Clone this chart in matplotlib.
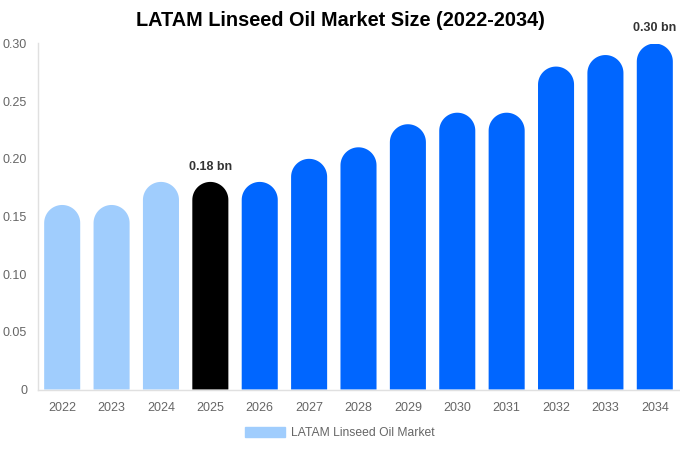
import matplotlib
matplotlib.use("Agg")
import numpy as np
import matplotlib.pyplot as plt
from matplotlib.patches import Polygon, Patch

years = ["2022", "2023", "2024", "2025", "2026", "2027", "2028", "2029", "2030", "2031", "2032", "2033", "2034"]
values = [0.16, 0.16, 0.18, 0.18, 0.18, 0.20, 0.21, 0.23, 0.24, 0.24, 0.28, 0.29, 0.30]
colors = ["#a0cdfd"] * 3 + ["#000000"] + ["#0066ff"] * 9
yticks = [0, 0.05, 0.10, 0.15, 0.20, 0.25, 0.30]
ytick_labels = ["0", "0.05", "0.10", "0.15", "0.20", "0.25", "0.30"]
annotations = {3: "0.18 bn", 12: "0.30 bn"}
title = "LATAM Linseed Oil Market Size (2022-2034)"
legend_label = "LATAM Linseed Oil Market"

plt.rcParams['font.family'] = ['Liberation Sans', 'DejaVu Sans']

W, H = 680, 450
fig = plt.figure(figsize=(W / 100, H / 100), dpi=100)
left_px, right_px, top_px, bottom_px = 37.5, 679.5, 43.5, 389.5
ax = fig.add_axes([left_px / W, 1 - bottom_px / H, (right_px - left_px) / W, (bottom_px - top_px) / H])

n = len(years)
ax.set_xlim(-0.5, n - 0.5)
ax.set_ylim(0, 0.30)
bw = 0.73
ax_w_px = right_px - left_px
ax_h_px = bottom_px - top_px
r_px = bw * ax_w_px / n / 2
r_data = r_px * 0.30 / ax_h_px

theta = np.linspace(0, np.pi, 40)
xs = list(range(n))
for x, v, c in zip(xs, values, colors):
    arc_x = x + (bw / 2) * np.cos(theta)
    arc_y = (v - r_data) + r_data * np.sin(theta)
    pts = [(x - bw / 2, 0), (x + bw / 2, 0)] + list(zip(arc_x, arc_y)) + [(x - bw / 2, 0)]
    ax.add_patch(Polygon(pts, closed=True, facecolor=c, edgecolor="none", linewidth=0))

for i, txt in annotations.items():
    ax.text(xs[i], values[i] + 0.008, txt, ha="center", va="bottom", fontsize=9, fontweight="bold", color="#333333")

ax.set_xticks(xs)
ax.set_xticklabels(years, fontsize=9, color="#666666")
ax.set_yticks(yticks)
ax.set_yticklabels(ytick_labels, fontsize=9, color="#666666")
ax.tick_params(axis="both", length=0)
ax.tick_params(axis="x", pad=9)
ax.tick_params(axis="y", pad=7.5)
for s in ["top", "right"]:
    ax.spines[s].set_visible(False)
for s in ["left", "bottom"]:
    ax.spines[s].set_color("#e0e0e0")
    ax.spines[s].set_linewidth(1)

fig.text(0.5, 1 - 21 / H, title, ha="center", va="center", fontsize=14.3, fontweight="bold", color="#000000")

leg = fig.legend(handles=[Patch(color="#a0cdfd", label=legend_label)], loc="center",
                 bbox_to_anchor=(340 / W, 1 - 433 / H), frameon=False, fontsize=8.7,
                 handlelength=3.3, handleheight=0.9, handletextpad=0.5)
for t in leg.get_texts():
    t.set_color("#666666")

fig.savefig("out.png", dpi=100)
